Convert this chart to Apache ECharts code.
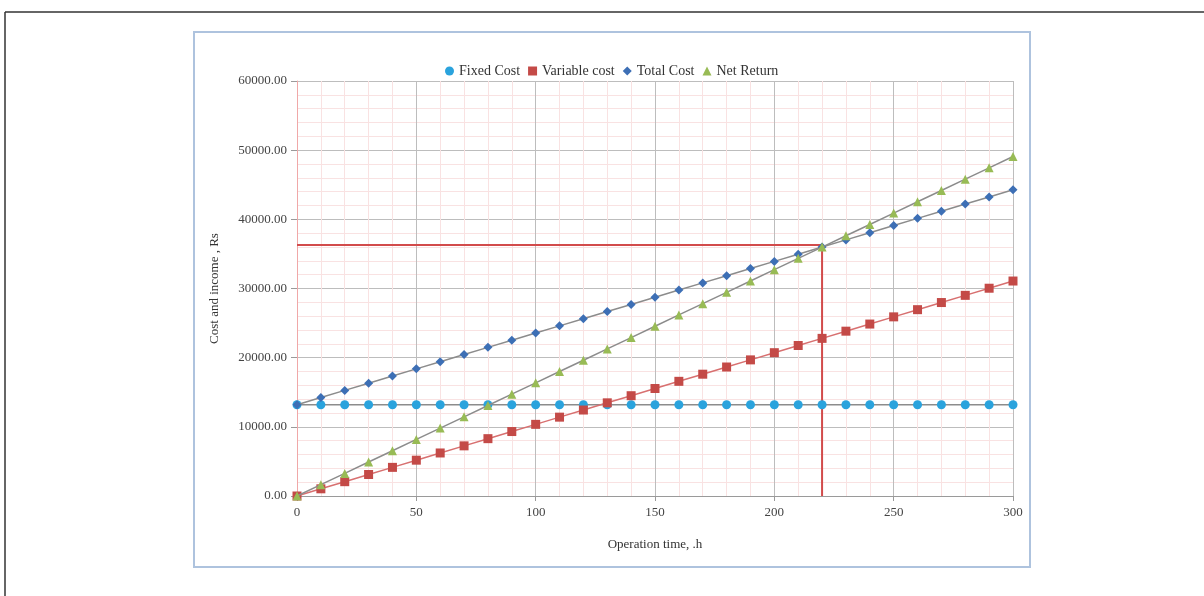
<!DOCTYPE html>
<html>
<head>
<meta charset="utf-8">
<script src="https://cdn.jsdelivr.net/npm/echarts@6/dist/echarts.min.js"></script>
<style>
html,body{margin:0;padding:0;background:#fff;}
#chart{width:1204px;height:596px;}
</style>
</head>
<body>
<div id="chart"></div>
<script>
// Data
const hours = [0,10,20,30,40,50,60,70,80,90,100,110,120,130,140,150,160,170,180,190,200,210,220,230,240,250,260,270,280,290,300];
const fixedCost = [13200,13200,13200,13200,13200,13200,13200,13200,13200,13200,13200,13200,13200,13200,13200,13200,13200,13200,13200,13200,13200,13200,13200,13200,13200,13200,13200,13200,13200,13200,13200];
const variableCost = [0,1040,2070,3110,4140,5180,6220,7250,8290,9320,10360,11400,12430,13470,14500,15540,16580,17610,18650,19680,20720,21760,22790,23830,24860,25900,26940,27970,29010,30040,31080];
const totalCost = [13200,14240,15270,16310,17340,18380,19420,20450,21490,22520,23560,24600,25630,26670,27700,28740,29780,30810,31850,32880,33920,34960,35990,37030,38060,39100,40140,41170,42210,43240,44280];
const netReturn = [0,1640,3270,4910,6540,8180,9820,11450,13090,14720,16360,18000,19630,21270,22900,24540,26180,27810,29450,31080,32720,34360,35990,37630,39260,40900,42540,44170,45810,47440,49080];
const breakEven = [220, 36300];
const seriesNames = ['Fixed Cost','Variable cost','Total Cost','Net Return'];
const xTickLabels = ['0','50','100','150','200','250','300'];
const yTickLabels = ['0.00','10000.00','20000.00','30000.00','40000.00','50000.00','60000.00'];

function pairs(ys){ return hours.map((h,i)=>[h, ys[i]]); }

const FONT = "'Liberation Serif','Times New Roman',serif";
const chart = echarts.init(document.getElementById('chart'));
chart.setOption({
  animation:false,
  backgroundColor:'#ffffff',
  graphic:[
    {type:'line', shape:{x1:5,y1:12,x2:1204,y2:12}, style:{stroke:'#333',lineWidth:1.5}},
    {type:'line', shape:{x1:5,y1:12,x2:5,y2:596}, style:{stroke:'#333',lineWidth:1.5}},
    {type:'rect', shape:{x:194,y:32,width:836,height:535}, style:{fill:'none',stroke:'#aec3de',lineWidth:2}, z:-1}
  ],
  legend:{
    left:440, top:59,
    itemGap:8, itemWidth:9, itemHeight:9,
    textStyle:{fontFamily:FONT,fontSize:14,color:'#333'},
    data:[
      {name:seriesNames[0], icon:'circle'},
      {name:seriesNames[1], icon:'rect'},
      {name:seriesNames[2], icon:'diamond'},
      {name:seriesNames[3], icon:'triangle'}
    ]
  },
  grid:{left:297, right:191, top:81, bottom:100, containLabel:false},
  xAxis:{
    type:'value', min:0, max:300, interval:50,
    name:'Operation time, .h', nameLocation:'middle', nameGap:42,
    nameTextStyle:{fontFamily:FONT,fontSize:13,color:'#333'},
    axisLine:{show:true, onZero:false, lineStyle:{color:'#9a9a9a',width:1}},
    axisTick:{show:true, length:5, lineStyle:{color:'#9a9a9a'}},
    axisLabel:{fontFamily:FONT,fontSize:13,color:'#444',margin:10,
      formatter:(v)=>{const i=Math.round(v/50); return xTickLabels[i]!==undefined?xTickLabels[i]:'';}},
    splitLine:{show:true, lineStyle:{color:'#bdbdbd',width:1}},
    minorTick:{show:false, splitNumber:5},
    minorSplitLine:{show:true, lineStyle:{color:'#f9e2e2',width:1}}
  },
  yAxis:{
    type:'value', min:0, max:60000, interval:10000,
    name:'Cost and income , Rs', nameLocation:'middle', nameGap:76,
    nameTextStyle:{fontFamily:FONT,fontSize:13,color:'#333'},
    axisLine:{show:true, lineStyle:{color:'#f0a8a8',width:1}},
    axisTick:{show:true, length:6, lineStyle:{color:'#9a9a9a'}},
    axisLabel:{fontFamily:FONT,fontSize:13,color:'#444',margin:10,
      formatter:(v)=>{const i=Math.round(v/10000); return yTickLabels[i]!==undefined?yTickLabels[i]:'';}},
    splitLine:{show:true, lineStyle:{color:'#bdbdbd',width:1}},
    minorTick:{show:false, splitNumber:5},
    minorSplitLine:{show:true, lineStyle:{color:'#f9e2e2',width:1}}
  },
  series:[
    {
      name:'breakeven', type:'line', silent:true, symbol:'none', z:1,
      data:[[0,breakEven[1]],[breakEven[0],breakEven[1]],[breakEven[0],0]],
      lineStyle:{color:'#d24b4b',width:2}
    },
    {
      name:seriesNames[0], type:'line', data:pairs(fixedCost), z:3,
      symbol:'circle', symbolSize:9,
      itemStyle:{color:'#2aa3dd'},
      lineStyle:{color:'#8c8c8c',width:1.5}
    },
    {
      name:seriesNames[1], type:'line', data:pairs(variableCost), z:3,
      symbol:'rect', symbolSize:9,
      itemStyle:{color:'#c44a47'},
      lineStyle:{color:'#d87070',width:1.5}
    },
    {
      name:seriesNames[2], type:'line', data:pairs(totalCost), z:4,
      symbol:'diamond', symbolSize:9,
      itemStyle:{color:'#3d6fb5'},
      lineStyle:{color:'#8c8c8c',width:1.5}
    },
    {
      name:seriesNames[3], type:'line', data:pairs(netReturn), z:5,
      symbol:'triangle', symbolSize:9,
      itemStyle:{color:'#98bb55'},
      lineStyle:{color:'#8c8c8c',width:1.5}
    }
  ]
});
</script>
</body>
</html>
